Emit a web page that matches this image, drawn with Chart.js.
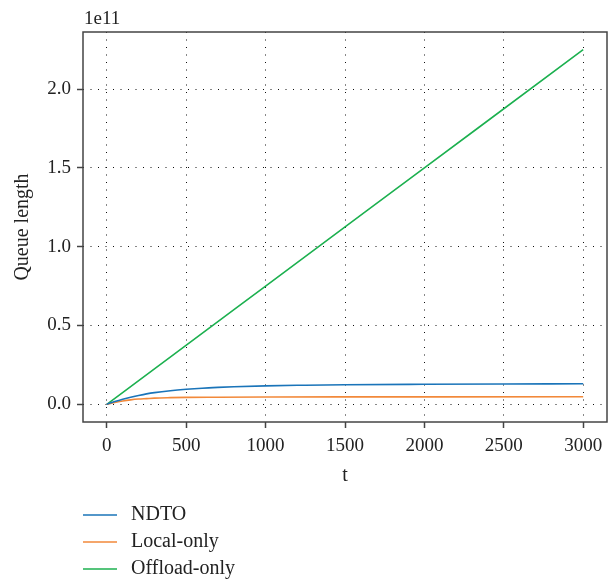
<!DOCTYPE html>
<html>
<head>
<meta charset="utf-8">
<script src="https://cdn.jsdelivr.net/npm/chart.js@4/dist/chart.umd.min.js"></script>
<style>
  html, body { margin: 0; padding: 0; background: #fff; }
  #wrap { width: 611px; height: 580px; }
</style>
</head>
<body>
<div id="wrap"><canvas id="queueChart" width="611" height="580"></canvas></div>
<script>
// Queue length over time (values in units of 1e11)
const tNdto   = [0, 50, 100, 150, 200, 250, 300, 400, 500, 600, 700, 800, 1000, 1250, 1500, 2000, 2500, 3000];
const qNdto   = [0, 0.017, 0.032, 0.045, 0.056, 0.066, 0.074, 0.086, 0.095, 0.102, 0.107, 0.111, 0.117, 0.121, 0.124, 0.127, 0.129, 0.130];
const tLocal  = [0, 50, 100, 150, 200, 250, 300, 400, 500, 700, 1000, 1500, 2000, 3000];
const qLocal  = [0, 0.012, 0.021, 0.028, 0.033, 0.036, 0.039, 0.042, 0.044, 0.045, 0.046, 0.047, 0.047, 0.048];
const tOff    = [0, 1000, 2000, 3000];
const qOff    = [0, 0.75, 1.5, 2.25];

const labels  = ['NDTO', 'Local-only', 'Offload-only'];
const colors  = ['#1a74b9', '#f2893a', '#1cb04f'];
const xTicks  = [0, 500, 1000, 1500, 2000, 2500, 3000];
const yTicks  = [0.0, 0.5, 1.0, 1.5, 2.0];

const FONT = "'Liberation Serif', 'Times New Roman', serif";
const pts = (xs, ys) => xs.map((x, i) => ({ x, y: ys[i] }));

// full box around the plot, "1e11" offset text, legend below the axes
const frame = {
  id: 'frame',
  afterDraw(chart) {
    const { ctx, chartArea: a } = chart;
    ctx.save();
    ctx.strokeStyle = '#444';
    ctx.lineWidth = 1.5;
    ctx.strokeRect(a.left, a.top, a.right - a.left, a.bottom - a.top);

    ctx.fillStyle = '#222';
    ctx.font = '19px ' + FONT;
    ctx.textBaseline = 'alphabetic';
    ctx.textAlign = 'left';
    ctx.fillText('1e11', a.left + 1, 24);

    ctx.font = '20px ' + FONT;
    chart.data.datasets.forEach((ds, i) => {
      const y = 515 + i * 27;
      ctx.strokeStyle = ds.borderColor;
      ctx.lineWidth = 1.6;
      ctx.beginPath();
      ctx.moveTo(83, y);
      ctx.lineTo(117, y);
      ctx.stroke();
      ctx.fillStyle = '#222';
      ctx.textBaseline = 'middle';
      ctx.fillText(ds.label, 131, y);
    });
    ctx.restore();
  }
};

const series = [pts(tNdto, qNdto), pts(tLocal, qLocal), pts(tOff, qOff)];

new Chart(document.getElementById('queueChart'), {
  type: 'line',
  data: {
    datasets: series.map((d, i) => ({
      label: labels[i],
      data: d,
      borderColor: colors[i],
      backgroundColor: colors[i],
      borderWidth: 1.6,
      pointRadius: 0,
      cubicInterpolationMode: 'monotone',
      fill: false
    }))
  },
  options: {
    responsive: false,
    animation: false,
    layout: { padding: { left: 0, top: 32, right: 4, bottom: 92 } },
    plugins: { legend: { display: false }, tooltip: { enabled: false } },
    scales: {
      x: {
        type: 'linear',
        min: -150, max: 3150,
        afterBuildTicks: s => { s.ticks = xTicks.map(v => ({ value: v })); },
        afterFit: s => { s.height = 66; },
        ticks: { color: '#222', font: { family: FONT, size: 19 }, padding: 7,
                 callback: v => String(v), maxRotation: 0 },
        grid: { color: '#111', lineWidth: 1, tickLength: 6, tickColor: '#444', tickWidth: 1.5 },
        border: { display: false, dash: [1, 6.5] },
        title: { display: true, text: 't', color: '#222', font: { family: FONT, size: 20 }, padding: 0 }
      },
      y: {
        min: -0.1125, max: 2.3625,
        afterBuildTicks: s => { s.ticks = yTicks.map(v => ({ value: v })); },
        afterFit: s => { s.width = 83; },
        ticks: { color: '#222', font: { family: FONT, size: 19 }, padding: 6,
                 callback: v => v.toFixed(1) },
        grid: { color: '#111', lineWidth: 1, tickLength: 6, tickColor: '#444', tickWidth: 1.5 },
        border: { display: false, dash: [1, 6.5] },
        title: { display: true, text: 'Queue length', color: '#222', font: { family: FONT, size: 20 }, padding: { top: 11, bottom: 0 } }
      }
    }
  },
  plugins: [frame]
});
</script>
</body>
</html>
